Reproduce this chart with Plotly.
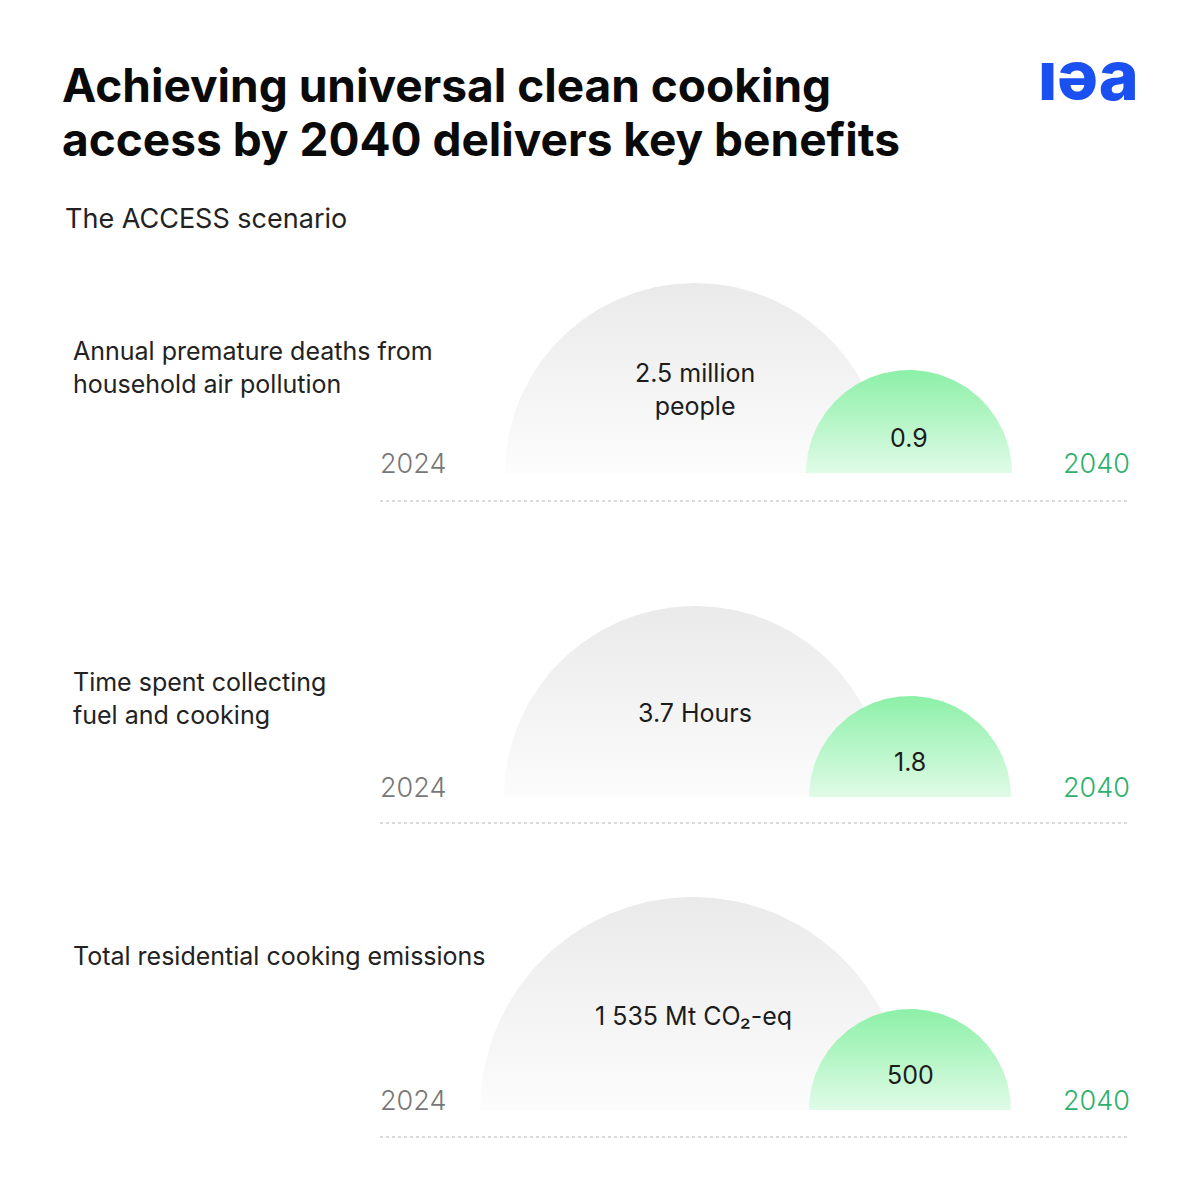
import numpy as np
import plotly.graph_objects as go

# data
indicators = [
    "Annual premature deaths from<br>household air pollution",
    "Time spent collecting<br>fuel and cooking",
    "Total residential cooking emissions",
]
values_2024 = [2.5, 3.7, 1535]
values_2040 = [0.9, 1.8, 500]
units = ["million<br>people", "Hours", "Mt CO₂-eq"]
years = ["2024", "2040"]
title_lines = ["Achieving universal clean cooking", "access by 2040 delivers key benefits"]

# layout in page pixels (the arches are illustrative, not to scale)
base_y = [473, 797, 1110]
label_y = [367, 698, 956]
gray_cx = [695, 695, 693]
gray_r = [190, 191, 213]
green_cx = [909, 910, 910]
green_r = [103, 101, 101]
line_y = [501, 823, 1137]

GRAY_TOP, GRAY_BOT = "#eaeaea", "#fcfcfc"
GREEN_TOP, GREEN_BOT = "#8cf0a7", "#e0fbe7"
TXT = "#1c1c1c"
FONT = "Inter"
PAGE_OFF = 8  # browser body margin, so data units == page pixels


def fmt(v):
    return f"{v:,}".replace(",", " ")


def arch(cx, r, base, top_col, bot_col):
    t = np.linspace(0, np.pi, 180)
    xs = np.concatenate([cx + r * np.cos(t), [cx + r]])
    ys = np.concatenate([base - r * np.sin(t), [base]])
    return go.Scatter(
        x=xs, y=ys, mode="lines", line=dict(width=0),
        fill="toself",
        fillgradient=dict(type="vertical", start=base, stop=base - r,
                          colorscale=[[0, bot_col], [1, top_col]]),
        hoverinfo="skip", showlegend=False,
    )


fig = go.Figure()
ann = []

for i in range(len(indicators)):
    b = base_y[i]
    fig.add_trace(arch(gray_cx[i], gray_r[i], b, GRAY_TOP, GRAY_BOT))
    fig.add_trace(arch(green_cx[i], green_r[i], b, GREEN_TOP, GREEN_BOT))

    # dotted separator
    fig.add_trace(go.Scatter(
        x=[380, 1130], y=[line_y[i], line_y[i]], mode="lines",
        line=dict(color="#b5b5b5", width=1, dash="dot"),
        hoverinfo="skip", showlegend=False,
    ))

    ann.append(dict(x=71, y=label_y[i], text=indicators[i], xanchor="left",
                    yanchor="middle", align="left",
                    font=dict(family=FONT, size=25, color="#222")))

    # 2024 value sits in the upper part of the gray arch
    ann.append(dict(x=gray_cx[i], y=b - gray_r[i] * 0.44,
                    text=f"{fmt(values_2024[i])} {units[i]}",
                    xanchor="center", yanchor="middle", align="center",
                    font=dict(family=FONT, size=25, color=TXT)))
    ann.append(dict(x=green_cx[i], y=b - 35, text=fmt(values_2040[i]),
                    xanchor="center", yanchor="middle",
                    font=dict(family=FONT, size=25, color=TXT)))

    ann.append(dict(x=378, y=b - 10, text=years[0], xanchor="left",
                    yanchor="middle",
                    font=dict(family=FONT, size=27, color="#777777", weight=300)))
    ann.append(dict(x=1132, y=b - 10, text=years[1], xanchor="right",
                    yanchor="middle",
                    font=dict(family=FONT, size=27, color="#2fb06a", weight=300)))

# title (two lines set apart by hand to keep the tight leading), subtitle, logo
for k, line in enumerate(title_lines):
    ann.append(dict(x=60, y=85 + 54 * k, text=line, xanchor="left", yanchor="middle",
                    font=dict(family=FONT, size=46, color="#0a0a0a", weight=700)))
ann.append(dict(x=63, y=218, text="The ACCESS scenario", xanchor="left",
                yanchor="middle", font=dict(family=FONT, size=27, color="#222")))
ann.append(dict(x=1141, y=75, text="ıəa", xanchor="right", yanchor="middle",
                font=dict(family=FONT, size=68, color="#1a4ff0", weight=800)))

for a in ann:
    a.update(xref="x", yref="y", showarrow=False)

fig.update_layout(
    width=1200, height=1200, autosize=False,
    margin=dict(l=0, r=0, t=0, b=0),
    paper_bgcolor="white", plot_bgcolor="white",
    xaxis=dict(range=[PAGE_OFF, 1200 + PAGE_OFF], visible=False, fixedrange=True),
    yaxis=dict(range=[1200 + PAGE_OFF, PAGE_OFF], visible=False, fixedrange=True),
    annotations=ann,
)

fig.write_html("out.html")
